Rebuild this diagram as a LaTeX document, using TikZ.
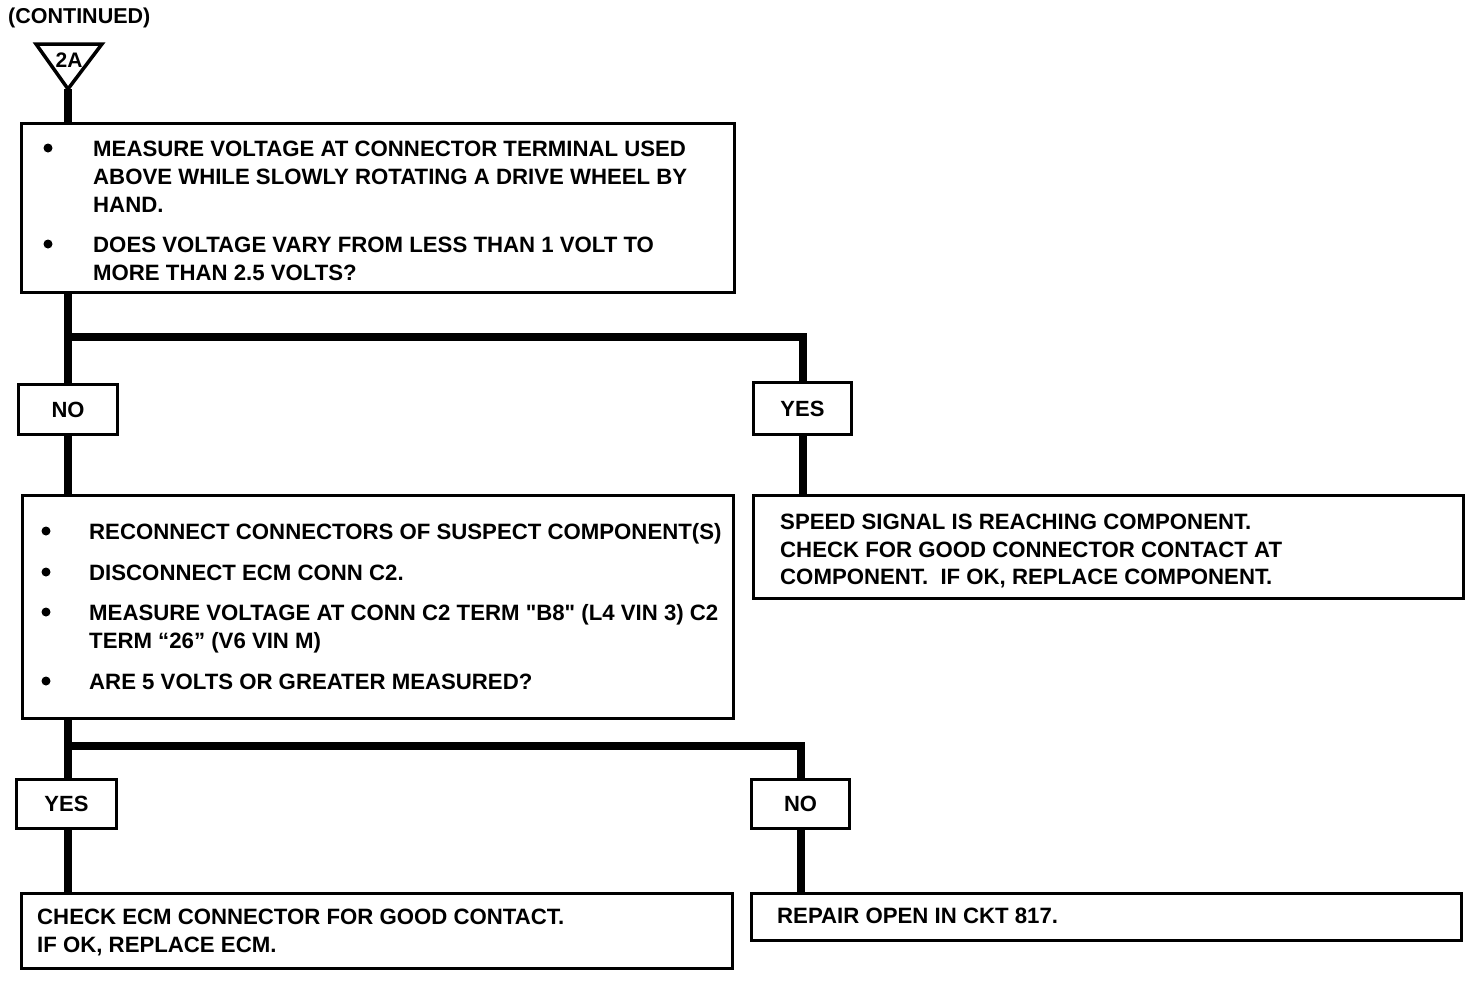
\documentclass[tikz,border=0pt]{standalone}
\usepackage{fontspec}
\setmainfont{Liberation Sans}[Ligatures=TeXOff]
\begin{document}
\begin{tikzpicture}[x=1pt,y=-1pt,
  box/.style={draw, line width=3pt, anchor=north west, inner sep=0pt},
  conn/.style={line width=8pt},
  txt/.style={anchor=base west, inner sep=0pt, font=\bfseries\fontsize{22.2}{26}\selectfont},
  lbl/.style={inner sep=0pt, font=\bfseries\fontsize{22}{26}\selectfont},
  bul/.style={circle, fill, inner sep=0pt, minimum size=9pt}]
\useasboundingbox[fill=white] (0,0) rectangle (1472,980);
% header
\node[anchor=west, inner sep=0pt, font=\bfseries\fontsize{21.5}{24}\selectfont] (cont) at (8,18) {(CONTINUED)};
\coordinate (tl) at (36,44);
\coordinate (tr) at (102,44);
\coordinate (ta) at (68,89);
\draw[line width=3.5pt, line join=miter] (tl) -- (tr) -- (ta) -- cycle;
\node[inner sep=0pt, font=\bfseries\fontsize{21}{24}\selectfont] (twoA) at (69,60) {2A};
% boxes (outer corner, outer size minus line width)
\node[box, minimum width=713pt, minimum height=169pt] (b1) at (20,122) {};
\node[box, minimum width=99pt, minimum height=50pt] (no1) at (17,383) {};
\node[box, minimum width=98pt, minimum height=52pt] (yes1) at (752,381) {};
\node[box, minimum width=711pt, minimum height=223pt] (b2) at (21,494) {};
\node[box, minimum width=710pt, minimum height=103pt] (b3) at (752,494) {};
\node[box, minimum width=100pt, minimum height=49pt] (yes2) at (15,778) {};
\node[box, minimum width=98pt, minimum height=49pt] (no2) at (750,778) {};
\node[box, minimum width=711pt, minimum height=75pt] (b4) at (20,892) {};
\node[box, minimum width=710pt, minimum height=47pt] (b5) at (750,892) {};
% labels
\node[lbl] (no1t) at (no1.center) {NO};
\node[lbl] (yes1t) at (yes1.center) {YES};
\node[lbl] (yes2t) at (yes2.center) {YES};
\node[lbl] (no2t) at (no2.center) {NO};
% connectors
\coordinate (j1) at (68,337);
\coordinate (j2) at (68,746);
\draw[conn] (ta) -- (ta |- b1.north);
\draw[conn] (b1.south -| ta) -- (ta |- no1.north);
\draw[conn] (j1) -| (yes1.north);
\draw[conn] (no1.south -| ta) -- (ta |- b2.north);
\draw[conn] (yes1.south) -- (yes1 |- b3.north);
\draw[conn] (b2.south -| ta) -- (ta |- yes2.north);
\draw[conn] (j2) -| (no2.north);
\draw[conn] (yes2.south -| ta) -- (ta |- b4.north);
\draw[conn] (no2.south) -- (no2 |- b5.north);
% box 1 text
\node[bul] (u11) at (48,148) {};
\node[bul] (u12) at (48,244) {};
\node[txt] (t11) at (93,156) {MEASURE VOLTAGE AT CONNECTOR TERMINAL USED};
\node[txt] (t12) at (93,184) {ABOVE WHILE SLOWLY ROTATING A DRIVE WHEEL BY};
\node[txt] (t13) at (93,212) {HAND.};
\node[txt] (t14) at (93,252) {DOES VOLTAGE VARY FROM LESS THAN 1 VOLT TO};
\node[txt] (t15) at (93,280) {MORE THAN 2.5 VOLTS?};
% box 2 text
\node[bul] (u21) at (46,531) {};
\node[bul] (u22) at (46,572) {};
\node[bul] (u23) at (46,612) {};
\node[bul] (u24) at (46,681) {};
\node[txt] (t21) at (89,539) {RECONNECT CONNECTORS OF SUSPECT COMPONENT(S)};
\node[txt] (t22) at (89,580) {DISCONNECT ECM CONN C2.};
\node[txt] (t23) at (89,620) {MEASURE VOLTAGE AT CONN C2 TERM "B8" (L4 VIN 3) C2};
\node[txt] (t24) at (89,648) {TERM “26” (V6 VIN M)};
\node[txt] (t25) at (89,689) {ARE 5 VOLTS OR GREATER MEASURED?};
% box 3 text
\node[txt] (t31) at (780,529) {SPEED SIGNAL IS REACHING COMPONENT.};
\node[txt] (t32) at (780,557) {CHECK FOR GOOD CONNECTOR CONTACT AT};
\node[txt] (t33) at (780,584) {COMPONENT.\ \ IF OK, REPLACE COMPONENT.};
% box 4 text
\node[txt] (t41) at (37,924) {CHECK ECM CONNECTOR FOR GOOD CONTACT.};
\node[txt] (t42) at (37,952) {IF OK, REPLACE ECM.};
% box 5 text
\node[txt] (t51) at (777,923) {REPAIR OPEN IN CKT 817.};
\end{tikzpicture}
\end{document}
